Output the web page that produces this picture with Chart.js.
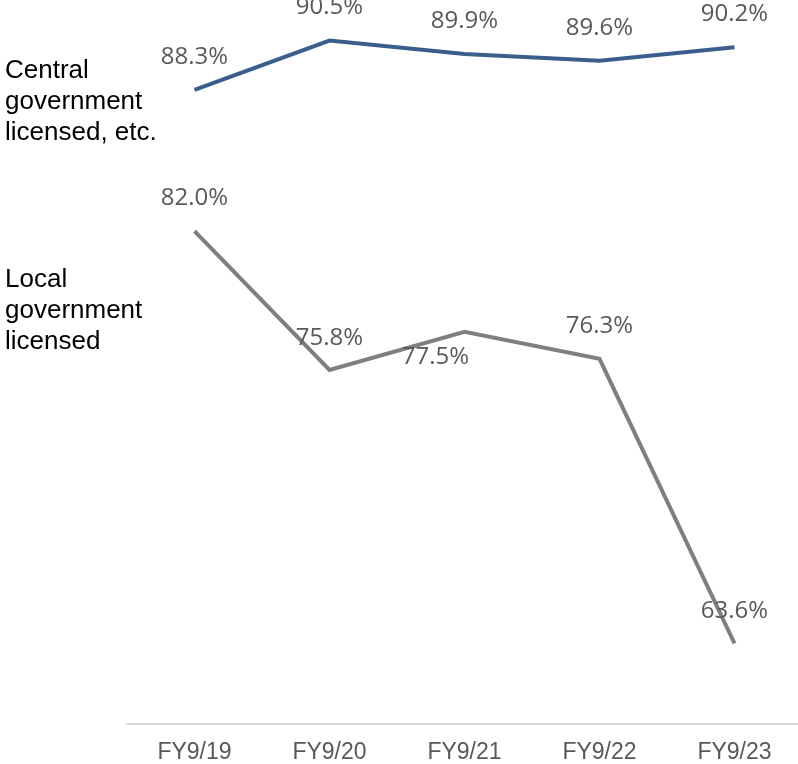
<!DOCTYPE html>
<html>
<head>
<meta charset="utf-8">
<script src="https://cdn.jsdelivr.net/npm/chart.js@4/dist/chart.umd.min.js"></script>
<style>
  html, body { margin: 0; padding: 0; background: #ffffff; overflow: hidden; }
  #wrap { width: 798px; height: 764px; position: relative; overflow: hidden; }
</style>
</head>
<body>
<div id="wrap"><canvas id="chart" width="802" height="764"></canvas></div>
<script>
// Fiscal years on the x axis
const categories = ['FY9/19', 'FY9/20', 'FY9/21', 'FY9/22', 'FY9/23'];

// Ratios (%) for each licence type
const centralValues = [88.3, 90.5, 89.9, 89.6, 90.2];
const localValues = [82.0, 75.8, 77.5, 76.3, 63.6];

// Series names shown as stacked captions at the left
const centralCaption = ['Central', 'government', 'licensed, etc.'];
const localCaption = ['Local', 'government', 'licensed'];

// Value-label placement: [dx, dy] from each point
const centralLabelShift = [[0, -33], [0, -33], [0, -33], [0, -33], [0, -33]];
const localLabelShift = [[0, -33], [0, -32], [-29, 25], [0, -33], [0, -32]];

const valueLabels = {
  id: 'valueLabels',
  afterDatasetsDraw(chart) {
    const ctx = chart.ctx;
    ctx.save();
    ctx.font = '24px "Open Sans"';
    ctx.fillStyle = '#595959';
    ctx.textAlign = 'center';
    ctx.textBaseline = 'middle';
    chart.data.datasets.forEach((ds, i) => {
      const meta = chart.getDatasetMeta(i);
      meta.data.forEach((pt, j) => {
        const s = ds.labelShift[j];
        ctx.fillText(ds.data[j].toFixed(1) + '%', pt.x + s[0], pt.y + s[1]);
      });
    });
    ctx.restore();
  }
};

const seriesCaptions = {
  id: 'seriesCaptions',
  afterDraw(chart) {
    const ctx = chart.ctx;
    ctx.save();
    ctx.font = '26px "Liberation Sans", Arial, sans-serif';
    ctx.fillStyle = '#000000';
    ctx.textAlign = 'left';
    ctx.textBaseline = 'alphabetic';
    centralCaption.forEach((t, k) => ctx.fillText(t, 5, 78 + k * 31));
    localCaption.forEach((t, k) => ctx.fillText(t, 5, 287 + k * 31));
    ctx.restore();
  }
};

new Chart(document.getElementById('chart'), {
  type: 'line',
  data: {
    labels: categories,
    datasets: [
      {
        label: centralCaption.join(' '),
        data: centralValues,
        labelShift: centralLabelShift,
        borderColor: '#3a5f8c',
        borderWidth: 4,
        pointRadius: 0,
        tension: 0,
        clip: false
      },
      {
        label: localCaption.join(' '),
        data: localValues,
        labelShift: localLabelShift,
        borderColor: '#7f7f7f',
        borderWidth: 4,
        pointRadius: 0,
        tension: 0,
        clip: false
      }
    ]
  },
  options: {
    responsive: false,
    animation: false,
    layout: { padding: { left: 127, right: 0, top: 7, bottom: 0 } },
    plugins: {
      legend: { display: false },
      tooltip: { enabled: false }
    },
    scales: {
      x: {
        offset: true,
        grid: { display: false, drawTicks: false },
        border: { display: true, color: '#d9d9d9', width: 2 },
        ticks: {
          color: '#595959',
          font: { family: '"Liberation Sans", Arial, sans-serif', size: 23 },
          padding: 15
        },
        afterFit(scale) { scale.height = 40; }
      },
      y: {
        display: false,
        min: 60,
        max: 92
      }
    }
  },
  plugins: [valueLabels, seriesCaptions]
});
</script>
</body>
</html>
